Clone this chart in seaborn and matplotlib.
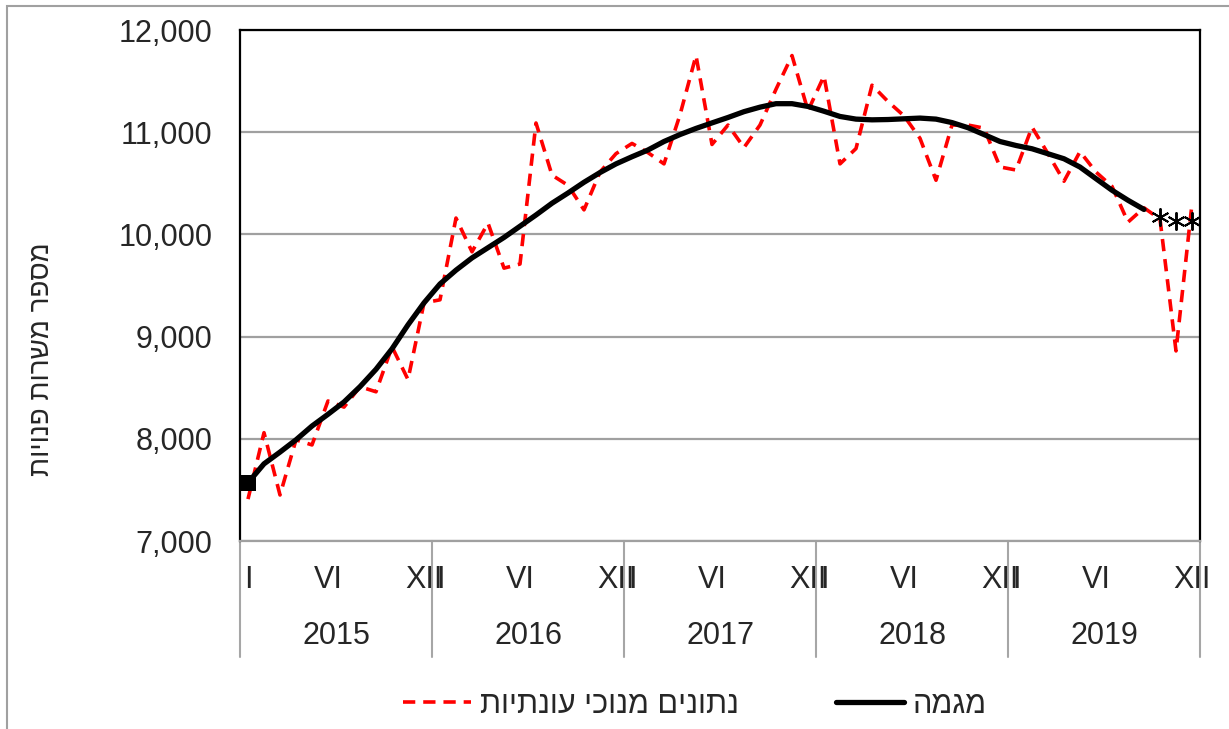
import numpy as np
import pandas as pd
import matplotlib
matplotlib.use('Agg')
import matplotlib.pyplot as plt
import matplotlib.transforms as mtransforms
from matplotlib.patches import Rectangle
from matplotlib.lines import Line2D
import seaborn as sns

# monthly data, Jan 2015 - Dec 2019
years = ['2015', '2016', '2017', '2018', '2019']
month_labels = ['I', 'VI', 'XII']
month_label_pos = [0, 5, 11]

seas_adj = [7410, 8060, 7450, 7990, 7940, 8370, 8310, 8510, 8460, 8900, 8580, 9330,
            9360, 10160, 9830, 10110, 9670, 9710, 11090, 10580, 10480, 10240, 10610, 10790,
            10890, 10800, 10690, 11170, 11750, 10880, 11070, 10850, 11070, 11420, 11750, 11210,
            11550, 10690, 10840, 11460, 11300, 11160, 10940, 10530, 11070, 11070, 11040, 10660,
            10630, 11050, 10790, 10520, 10810, 10610, 10470, 10120, 10260, 10150, 8860, 10300]

trend = [7570, 7755, 7870, 7990, 8125, 8240, 8360, 8510, 8680, 8880, 9115, 9330,
         9515, 9650, 9770, 9870, 9970, 10080, 10190, 10305, 10405, 10510, 10605, 10690,
         10760, 10826, 10909, 10977, 11037, 11091, 11144, 11201, 11245, 11279, 11279, 11252,
         11205, 11154, 11128, 11121, 11124, 11131, 11138, 11128, 11094, 11044, 10977, 10909,
         10870, 10838, 10789, 10740, 10659, 10545, 10432, 10334, 10244]

# last three months of the trend - provisional estimate (asterisks)
trend_est = [10170, 10130, 10130]

label_seas = 'נתונים מנוכי עונתיות'
label_trend = 'מגמה'
ylabel = 'מספר משרות פנויות'


def heb(s):
    # matplotlib has no bidi support -> visual order
    return s[::-1]


df = pd.DataFrame({'t': np.arange(len(seas_adj)), 'seas': seas_adj})
df_tr = pd.DataFrame({'t': np.arange(len(trend)), 'trend': trend})
df_est = pd.DataFrame({'t': np.arange(len(trend), len(trend) + len(trend_est)), 'est': trend_est})

sns.set_style('white')
plt.rcParams['font.family'] = ['Liberation Sans', 'DejaVu Sans']

red_dash = (0, (3.4, 2.2))

fig = plt.figure(figsize=(12.29, 7.29), dpi=100)
ax = fig.add_axes([240 / 1229, 1 - 541 / 729, 960 / 1229, 511 / 729])

sns.lineplot(data=df, x='t', y='seas', ax=ax, color='#ff0000', lw=2.6,
             dashes=False, linestyle=red_dash)
sns.lineplot(data=df_tr, x='t', y='trend', ax=ax, color='black', lw=3.8,
             marker='s', markersize=11, markevery=[0], markeredgewidth=0)
sns.lineplot(data=df_est, x='t', y='est', ax=ax, color='black', linestyle='none',
             marker=(6, 2, 0), markersize=13, markeredgewidth=1.4,
             markeredgecolor='black')

ax.set_xlim(-0.5, 59.5)
ax.set_ylim(7000, 12000)
ax.set_yticks(np.arange(7000, 12001, 1000))
ax.set_yticklabels([f'{v:,}' for v in range(7000, 12001, 1000)], fontsize=22)
ax.tick_params(axis='y', length=0, pad=20)
ax.yaxis.grid(True, color='#a0a0a0', lw=1.6)
ax.set_xticks([])
ax.set_xlabel('')
ax.set_ylabel('')

for side in ['left', 'top', 'right']:
    ax.spines[side].set_color('black')
    ax.spines[side].set_linewidth(1.6)
ax.spines['bottom'].set_color('#a0a0a0')
ax.spines['bottom'].set_linewidth(1.6)

# two-level category axis
trans = mtransforms.blended_transform_factory(ax.transData, ax.transAxes)
for k, yr in enumerate(years):
    for p, m in zip(month_label_pos, month_labels):
        ax.text(12 * k + p, -0.0763, m, transform=trans, ha='center', va='center', fontsize=22)
    ax.text(12 * k + 5.5, -0.186, yr, transform=trans, ha='center', va='center', fontsize=22)
for k in range(len(years) + 1):
    ax.plot([12 * k - 0.5, 12 * k - 0.5], [0, -0.227], transform=trans, color='#a6a6a6',
            lw=1.5, clip_on=False)

fig.text(42 / 1229, 1 - 359 / 729, heb(ylabel), rotation=90, ha='center', va='center', fontsize=20)

handles = [Line2D([], [], color='#ff0000', lw=2.6, linestyle=red_dash),
           Line2D([], [], color='black', lw=3.8)]
fig.legend(handles, [heb(label_seas), heb(label_trend)], loc='center', ncol=2,
           bbox_to_anchor=(695 / 1229, 1 - 705 / 729), frameon=False, fontsize=22,
           handlelength=2.2, handletextpad=0.3, columnspacing=3.2)

# outer chart border
fig.add_artist(Rectangle((7 / 1229, -0.02), 1.1, 1 - 6 / 729 + 0.02, transform=fig.transFigure,
                         fill=False, edgecolor='#a0a0a0', lw=1.5, clip_on=False))

fig.savefig('out.png', dpi=100)
